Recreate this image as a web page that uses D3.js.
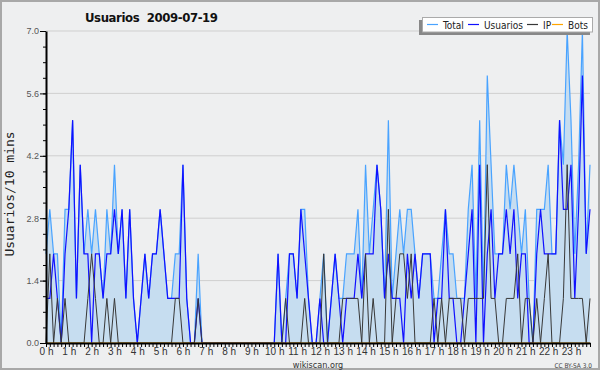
<!DOCTYPE html>
<html>
<head>
<meta charset="utf-8">
<script src="https://cdn.jsdelivr.net/npm/d3@7"></script>
<style>
  body { margin: 0; background: #fff; }
</style>
</head>
<body>
<div id="chart"></div>
<script>
// Usuarios / 10 mins, one value per 10-minute slot (144 slots)
const total = [
  2,3,2,2,0,3,3,5,1,4, 2,3,2,3,2,1,3,2,4,2, 3,1,3,1,0,1,2,1,2,2, 3,2,1,1,2,2,4,1,0,0,
  2,0,0,0,0,0,0,0,0,0, 0,0,0,0,0,0,0,0,0,0, 0,2,0,1,2,2,1,3,3,1, 0,0,1,2,0,1,2,1,1,2,
  2,2,3,1,4,2,3,4,3,1, 5,1,2,3,2,3,3,2,1,2, 2,2,1,1,2,3,2,2,1,1, 1,3,4,1,5,1,6,4,2,2,
  2,4,3,4,3,2,3,1,0,3, 3,3,4,2,2,5,4,7,5,2, 4,7,2,4
];
const usuarios = [
  1,1,2,1,0,2,3,5,1,4, 2,2,0,2,2,1,2,2,3,2, 3,1,3,1,0,1,2,1,2,2, 3,2,1,1,1,1,4,1,0,0,
  1,0,0,0,0,0,0,0,0,0, 0,0,0,0,0,0,0,0,0,0, 0,2,0,0,2,2,1,3,2,1, 0,0,1,0,0,1,2,1,0,1,
  1,1,2,1,2,2,2,4,3,1, 2,1,1,1,0,2,1,2,1,2, 2,2,0,1,1,3,1,1,0,0, 1,2,3,0,4,0,2,3,1,2,
  2,3,2,3,1,2,2,0,0,2, 3,2,2,2,2,5,3,3,4,1, 3,6,2,3
];
const ip = [
  0,2,0,1,0,1,0,0,0,0, 0,1,2,1,0,0,1,0,1,0, 0,0,0,0,0,0,0,0,0,0, 0,0,0,0,1,1,0,0,0,0,
  1,0,0,0,0,0,0,0,0,0, 0,0,0,0,0,0,0,0,0,0, 0,0,0,1,0,0,0,0,1,0, 0,0,0,2,0,0,0,0,1,1,
  1,1,1,0,2,0,1,0,0,0, 3,0,1,2,2,1,2,0,0,0, 0,0,1,0,1,0,1,1,1,1, 0,1,1,1,1,1,4,1,1,0,
  0,1,1,1,2,0,1,1,0,1, 0,1,2,0,0,0,1,4,1,1, 1,1,0,1
];
const bots = [
  0,0,0,0,0,0,0,0,0,0, 0,0,0,0,0,0,0,0,0,0, 0,0,0,0,0,0,0,0,0,0, 0,0,0,0,0,0,0,0,0,0,
  0,0,0,0,0,0,0,0,0,0, 0,0,0,0,0,0,0,0,0,0, 0,0,0,0,0,0,0,0,0,0, 0,0,0,0,0,0,0,0,0,0,
  0,0,0,0,0,0,0,0,0,0, 0,0,0,0,0,0,0,0,0,0, 0,0,0,0,0,0,0,0,0,0, 0,0,0,0,0,0,0,0,0,0,
  0,0,0,0,0,0,0,0,0,0, 0,0,0,0,0,0,0,0,0,0, 0,0,0,0
];
const hourLabels = ["0 h","1 h","2 h","3 h","4 h","5 h","6 h","7 h","8 h","9 h","10 h","11 h",
  "12 h","13 h","14 h","15 h","16 h","17 h","18 h","19 h","20 h","21 h","22 h","23 h"];
const yTicks = [0, 1.4, 2.8, 4.2, 5.6, 7.0];
const legendNames = ["Total", "Usuarios", "IP", "Bots"];

const colors = { total: "#49a3ff", usuarios: "#1010ff", ip: "#383838", bots: "#ffa500" };
const condensed = "'DejaVu Sans Condensed', 'DejaVu Sans', sans-serif";

const width = 600, height = 370;
const svg = d3.select("#chart").append("svg")
  .attr("width", width)
  .attr("height", height)
  .style("font-family", condensed);

// background + frame
svg.append("rect")
  .attr("x", 1).attr("y", 1)
  .attr("width", width - 2).attr("height", height - 2)
  .attr("fill", "#eeeff0")
  .attr("stroke", "#a8a8a8")
  .attr("stroke-width", 2);

const x = d3.scaleLinear().domain([0, total.length - 1]).range([46, 590]);
const y = d3.scaleLinear().domain([0, 7]).range([343, 31]);

// grid
svg.append("g")
  .selectAll("line")
  .data(yTicks.filter(d => d > 0))
  .join("line")
  .attr("x1", 46).attr("x2", 590)
  .attr("y1", d => y(d)).attr("y2", d => y(d))
  .attr("stroke", "#cfcfcf")
  .attr("stroke-width", 1);

// filled area under total
svg.append("path")
  .datum(total)
  .attr("fill", "#c6ddf0")
  .attr("d", d3.area()
    .x((d, i) => x(i))
    .y0(y(0))
    .y1(d => y(d)));

const line = d3.line().x((d, i) => x(i)).y(d => y(d));

const series = [
  { key: "total", data: total, w: 1.2 },
  { key: "usuarios", data: usuarios, w: 1.2 },
  { key: "ip", data: ip, w: 1 },
  { key: "bots", data: bots, w: 1 }
];

svg.append("g")
  .attr("fill", "none")
  .selectAll("path")
  .data(series)
  .join("path")
  .attr("stroke", d => colors[d.key])
  .attr("stroke-width", d => d.w)
  .attr("d", d => line(d.data));

// x axis: a tick every 10 minutes, label every hour
const xAxis = svg.append("g")
  .attr("transform", `translate(0,${y(0)})`)
  .call(d3.axisBottom(x)
    .tickValues(d3.range(0, total.length))
    .tickSize(4)
    .tickSizeOuter(0)
    .tickFormat(i => i % 6 === 0 ? hourLabels[i / 6] : ""));
xAxis.select(".domain").attr("stroke", "#000").attr("stroke-width", 2);
xAxis.selectAll(".tick line").attr("stroke", "#000").attr("stroke-width", 1);
xAxis.selectAll(".tick text")
  .attr("y", 5)
  .attr("fill", "#333")
  .style("font-size", "10px");

// y axis with minor ticks
svg.append("g")
  .attr("transform", "translate(46,0)")
  .call(d3.axisLeft(y).tickValues(d3.range(0, 7.01, 0.35)).tickSize(3).tickFormat(""))
  .call(g => g.select(".domain").remove());
const yAxis = svg.append("g")
  .attr("transform", "translate(46,0)")
  .call(d3.axisLeft(y)
    .tickValues(yTicks)
    .tickSize(6)
    .tickSizeOuter(0)
    .tickFormat(d3.format(".1f")));
yAxis.select(".domain").attr("stroke", "#000").attr("stroke-width", 2);
yAxis.selectAll(".tick text")
  .attr("x", -7)
  .attr("fill", "#555")
  .style("font-size", "9px");

// titles
svg.append("text")
  .attr("x", 85).attr("y", 22)
  .style("font-weight", "bold")
  .style("font-size", "13px")
  .attr("textLength", 133)
  .attr("fill", "#111")
  .text("Usuarios\u00a0\u00a02009-07-19");

svg.append("text")
  .attr("transform", "translate(14,194) rotate(-90)")
  .attr("text-anchor", "middle")
  .style("font-family", "'DejaVu Sans Mono', monospace")
  .style("font-size", "13px")
  .attr("fill", "#222")
  .text("Usuarios/10 mins");

svg.append("text")
  .attr("x", 318).attr("y", 367.5)
  .attr("text-anchor", "middle")
  .style("font-size", "9px")
  .attr("fill", "#333")
  .text("wikiscan.org");

svg.append("text")
  .attr("x", 592).attr("y", 368)
  .attr("text-anchor", "end")
  .style("font-size", "6.5px")
  .attr("fill", "#444")
  .text("CC BY-SA 3.0");

// legend with drop shadow
const legend = svg.append("g");
legend.append("rect")
  .attr("x", 419).attr("y", 20)
  .attr("width", 171).attr("height", 15)
  .attr("fill", "#888");
legend.append("rect")
  .attr("x", 422.5).attr("y", 17.5)
  .attr("width", 170).attr("height", 14.5)
  .attr("fill", "#fff")
  .attr("stroke", "#aaa");

const legendX = [427, 468, 527, 552];
const legendKeys = ["total", "usuarios", "ip", "bots"];
const item = legend.selectAll("g.item")
  .data(legendNames)
  .join("g")
  .attr("class", "item")
  .attr("transform", (d, i) => `translate(${legendX[i]},0)`);
item.append("line")
  .attr("x1", 0).attr("x2", 11)
  .attr("y1", 24.5).attr("y2", 24.5)
  .attr("stroke", (d, i) => colors[legendKeys[i]])
  .attr("stroke-width", 1.2);
item.append("text")
  .attr("x", 16).attr("y", 28.5)
  .style("font-size", "10px")
  .attr("fill", "#222")
  .text(d => d);
</script>
</body>
</html>
